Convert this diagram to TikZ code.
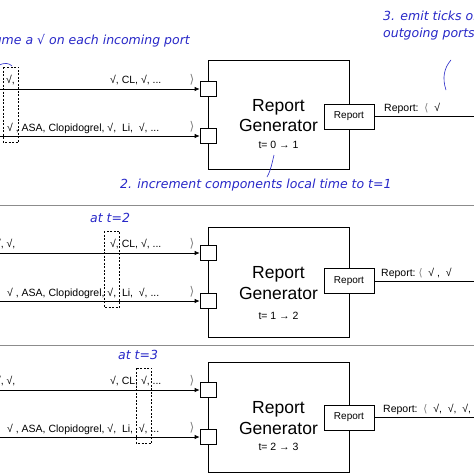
\documentclass[tikz,border=0pt]{standalone}
\usepackage{fontspec}
\setmainfont{Liberation Sans}
\newfontfamily\dvs{DejaVu Sans}
\newfontfamily\hand{DejaVu Sans}
\usetikzlibrary{arrows.meta}
\definecolor{annot}{RGB}{40,40,200}
\definecolor{sepgray}{RGB}{140,140,140}
\newcommand\ck{√}
\newcommand\lang{{\dvs\color{gray}⟨}}
\newcommand\rang{{\dvs\color{gray}⟩}}
\begin{document}
\begin{tikzpicture}[x=1pt,y=-1pt,
  blk/.style={draw, line width=0.8pt, minimum width=141pt, inner sep=0pt},
  port/.style={draw, fill=white, line width=0.7pt, minimum width=16pt, minimum height=15pt, inner sep=0pt},
  outport/.style={draw, fill=white, line width=0.7pt, minimum width=50pt, minimum height=25pt, inner sep=0pt, font=\fontsize{10}{12}\selectfont},
  title/.style={align=center, font=\fontsize{17.5}{20.5}\selectfont},
  tlabel/.style={font=\fontsize{10.5}{12}\selectfont},
  stream/.style={anchor=base west, inner sep=0pt, font=\fontsize{10.5}{12}\selectfont},
  streamr/.style={anchor=base east, inner sep=0pt, font=\fontsize{10.5}{12}\selectfont},
  chev/.style={anchor=base, inner sep=0pt, font=\fontsize{12}{14}\selectfont},
  flow/.style={line width=0.7pt, -{Latex[length=5pt,width=4.5pt]}},
  outline/.style={line width=0.7pt},
  tick/.style={draw, dashed, dash pattern=on 2pt off 1.5pt, line width=0.7pt},
  note/.style={inner sep=0pt, text=annot, font=\hand\itshape\fontsize{12.5}{17}\selectfont},
  pointer/.style={draw=annot, line width=0.6pt},
  sep/.style={draw=sepgray, line width=0.8pt}]
\useasboundingbox (0,0) rectangle (474,474);
\clip (0,0) rectangle (474,474);
\fill[white] (0,0) rectangle (474,474);

% panels: index / box top / box bottom / line a / line b / report port y / dashed box x
\foreach \i/\bt/\bb/\la/\lb/\rp/\dx in {1/60/169/89/136/116.5/3, 2/227/337/253/301/281/104, 3/362/472/390/437/417.5/136}{
  \node[blk, minimum height={\bb-\bt}] (box\i) at (278.5,{(\bt+\bb)/2}) {};
  \node[title] (name\i) at (278.5,{(\bt+\bb)/2+1}) {Report\\Generator};
  \node[port] (pa\i) at (208,\la) {};
  \node[port] (pb\i) at (208,\lb) {};
  \node[outport] (rp\i) at (349,\rp) {Report};
  \coordinate (sa\i) at (-5,\la);
  \coordinate (sb\i) at (-5,\lb);
  \coordinate (out\i) at (480,\rp);
  \draw[flow] (sa\i) -- (pa\i.west);
  \draw[flow] (sb\i) -- (pb\i.west);
  \draw[outline] (rp\i.east) -- (out\i);
  \node[chev] (ca\i) at (192,\la-6) {\rang};
  \node[chev] (cb\i) at (192,\lb-6) {\rang};
  \node[stream] (cl\i) at (110,\la-6) {\ck, CL, \ck, ...};
  \node[stream] (asa\i) at (7,\lb-5) {\ck\ , ASA, Clopidogrel, \ck,\ \ Li,\ \ \ck, ...};
  \draw[tick] (\dx,\la-22) rectangle (\dx+15.5,\lb+6);
}
\node[tlabel] (t1) at (278.5,145) {t= 0 → 1};
\node[tlabel] (t2) at (278.5,316) {t= 1 → 2};
\node[tlabel] (t3) at (278.5,447) {t= 2 → 3};

\node[stream] (ha1) at (6,83) {\ck,};
\node[streamr] (ha2) at (15.5,247) {\ck, \ck,};
\node[streamr] (ha3) at (15.5,384.5) {\ck, \ck,};

\node[stream] (ro1) at (384,111.5) {Report:\ \ \lang\ \ \ck};
\node[stream] (ro2) at (381,276) {Report:\ \lang\ \ \ck\ ,\ \ \ck};
\node[stream] (ro3) at (383,412.5) {Report:\ \ \lang\ \ \ck,\ \ \ck,\ \ \ck,};

% separators
\coordinate (s1a) at (0,205); \coordinate (s1b) at (474,205);
\coordinate (s2a) at (0,345); \coordinate (s2b) at (474,345);
\draw[sep] (s1a) -- (s1b);
\draw[sep] (s2a) -- (s2b);

% annotations
\node[note, anchor=base east] (n1) at (190,44) {Assume a \ck\ on each incoming port};
\node[note, anchor=base west, align=left] (n3) at (383,37) {3. emit ticks on\\outgoing ports};
\node[note, anchor=base west] (n2) at (120,188) {2. increment components local time to t=1};
\node[note, anchor=base west] (at2) at (90,222) {at t=2};
\node[note, anchor=base west] (at3) at (118,359) {at t=3};
\draw[pointer] (-2,66) .. controls (4,62) and (9,63) .. (12,66);
\draw[pointer] (446,90) .. controls (442,78) and (444,68) .. (451,60);
\draw[pointer] (267,177) .. controls (271,170) and (272,163) .. (274,155);
\end{tikzpicture}
\end{document}
